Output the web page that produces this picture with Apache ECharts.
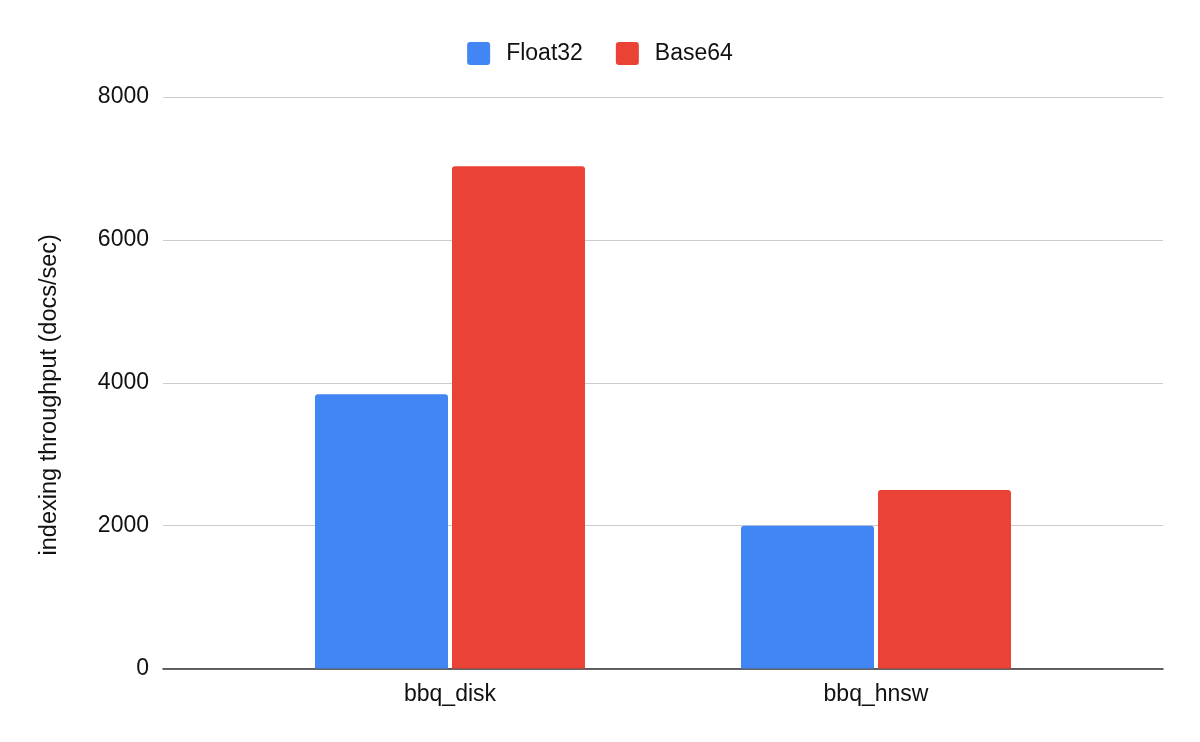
<!DOCTYPE html>
<html>
<head>
<meta charset="utf-8">
<script src="https://cdn.jsdelivr.net/npm/echarts@6/dist/echarts.min.js"></script>
<style>
  html, body { margin: 0; padding: 0; background: #fff; }
  #chart { width: 1200px; height: 742px; }
</style>
</head>
<body>
<div id="chart"></div>
<script>
// indexing throughput, Float32 vs Base64 vectors
var categories = ['bbq_disk', 'bbq_hnsw'];
var float32 = [3840, 2000];
var base64 = [7030, 2500];
var yTicks = [0, 2000, 4000, 6000, 8000];

var font = '"Liberation Sans", Arial, Helvetica, sans-serif';
var ink = '#111';
var blue = '#4285f4';
var red = '#ea4335';
// small square with slightly rounded corners, like the legend swatches
var swatch = 'path://M3,0H20A3,3 0 0 1 23,3V20A3,3 0 0 1 20,23H3A3,3 0 0 1 0,20V3A3,3 0 0 1 3,0Z';

var chart = echarts.init(document.getElementById('chart'), null, { renderer: 'canvas' });
chart.setOption({
  animation: false,
  backgroundColor: '#ffffff',
  textStyle: { fontFamily: font },
  legend: {
    top: 37,
    left: 'center',
    itemWidth: 23,
    itemHeight: 23,
    itemGap: 33,
    icon: swatch,
    textStyle: { fontFamily: font, fontSize: 23, color: ink, padding: [0, 0, 0, 11] },
    data: ['Float32', 'Base64']
  },
  // grid 0 draws the gridlines over the full width, grid 1 holds the bars
  grid: [
    { left: 163, right: 37, top: 97, bottom: 73.5 },
    { left: 237, right: 111, top: 97, bottom: 73.5 }
  ],
  xAxis: [
    {
      gridIndex: 0,
      type: 'value',
      min: 0, max: 1,
      axisLine: { show: true, onZero: false, lineStyle: { color: '#333', width: 1.5 } },
      axisTick: { show: false },
      axisLabel: { show: false },
      splitLine: { show: false }
    },
    {
      gridIndex: 1,
      type: 'category',
      data: categories,
      axisLine: { show: false },
      axisTick: { show: false },
      axisLabel: { color: ink, fontSize: 23, fontFamily: font, margin: 15 }
    }
  ],
  yAxis: [
    {
      gridIndex: 0,
      type: 'value',
      min: yTicks[0],
      max: yTicks[yTicks.length - 1],
      interval: yTicks[1] - yTicks[0],
      name: 'indexing throughput (docs/sec)',
      nameLocation: 'middle',
      nameGap: 101,
      nameTextStyle: { color: ink, fontSize: 23.5, fontFamily: font, padding: [0, 24, 0, 0] },
      axisLine: { show: false },
      axisTick: { show: false },
      axisLabel: {
        color: ink, fontSize: 23, fontFamily: font, margin: 14,
        formatter: function(v) { return String(v); }
      },
      splitLine: { lineStyle: { color: '#cccccc', width: 1 } }
    },
    {
      gridIndex: 1,
      type: 'value',
      min: yTicks[0],
      max: yTicks[yTicks.length - 1],
      show: false,
      splitLine: { show: false }
    }
  ],
  series: [
    {
      name: 'Float32',
      type: 'bar',
      xAxisIndex: 1,
      yAxisIndex: 1,
      data: float32,
      barWidth: 133,
      barGap: '3%',
      itemStyle: { color: blue, borderRadius: [3, 3, 0, 0] }
    },
    {
      name: 'Base64',
      type: 'bar',
      xAxisIndex: 1,
      yAxisIndex: 1,
      data: base64,
      barWidth: 133,
      barGap: '3%',
      itemStyle: { color: red, borderRadius: [3, 3, 0, 0] }
    }
  ]
});
window.addEventListener('resize', function() { chart.resize(); });
</script>
</body>
</html>
